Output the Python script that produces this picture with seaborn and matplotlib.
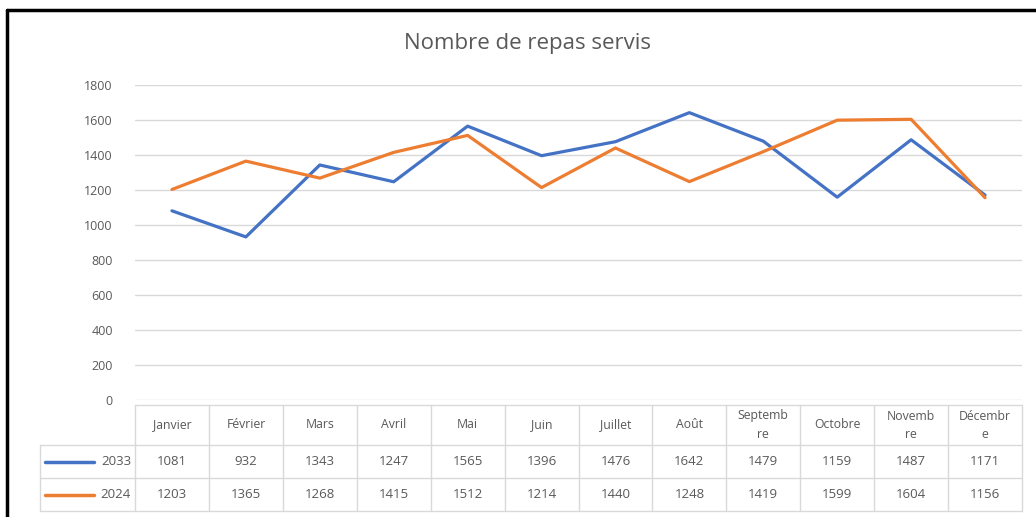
import matplotlib
matplotlib.use("Agg")

import matplotlib.pyplot as plt
import pandas as pd
import seaborn as sns

months = ["Janvier", "Février", "Mars", "Avril", "Mai", "Juin", "Juillet",
          "Août", "Septembre", "Octobre", "Novembre", "Décembre"]
tableLabels = ["Janvier", "Février", "Mars", "Avril", "Mai", "Juin", "Juillet",
               "Août", "Septemb\nre", "Octobre", "Novemb\nre", "Décembr\ne"]
series2033 = [1081, 932, 1343, 1247, 1565, 1396, 1476, 1642, 1479, 1159, 1487, 1171]
series2024 = [1203, 1365, 1268, 1415, 1512, 1214, 1440, 1248, 1419, 1599, 1604, 1156]
seriesNames = ["2033", "2024"]
yTicks = [0, 200, 400, 600, 800, 1000, 1200, 1400, 1600, 1800]
title = "Nombre de repas servis"

colors = {"2033": "#4472C4", "2024": "#ED7D31"}
textGray = "#595959"
gridGray = "#D9D9D9"

sns.set_theme(style="white")
plt.rcParams["font.family"] = ["Open Sans", "DejaVu Sans"]

W, H = 1036, 517
fig = plt.figure(figsize=(W / 100, H / 100), dpi=100)

# main line chart area, in pixels of the figure
left, right, top, bottom = 135, 1022, 85, 400
ax = fig.add_axes([left / W, 1 - bottom / H, (right - left) / W, (bottom - top) / H])

df = pd.DataFrame({
    "month": list(range(len(months))) * 2,
    "value": series2033 + series2024,
    "serie": [seriesNames[0]] * len(months) + [seriesNames[1]] * len(months),
})
sns.lineplot(data=df, x="month", y="value", hue="serie", palette=colors,
             linewidth=2.3, legend=False, ax=ax)

ax.set_xlim(-0.5, len(months) - 0.5)
ax.set_ylim(0, 1800)
ax.set_yticks(yTicks)
ax.set_yticklabels([str(v) for v in yTicks], color=textGray, fontsize=9)
ax.set_xticks([])
ax.set_xlabel("")
ax.set_ylabel("")
ax.tick_params(axis="y", length=0, pad=16)
ax.yaxis.grid(True, color=gridGray, linewidth=1)
ax.set_axisbelow(True)
for s in ax.spines.values():
    s.set_visible(False)

# overlay axes in pixel coordinates for title, data table and frame
ov = fig.add_axes([0, 0, 1, 1], zorder=-1)
ov.set_xlim(0, W)
ov.set_ylim(H, 0)
ov.axis("off")

ov.text(527, 44, title, ha="center", va="center",
        fontsize=16, color=textGray)

colW = (right - left) / len(months)
yHeadTop, yHeadBot, yRow1, yRow2 = 405, 445, 478, 511
tableLeft = 40
lineKw = {"color": gridGray, "linewidth": 1}

ov.plot([left, right], [yHeadTop, yHeadTop], **lineKw)
for yy in [yHeadBot, yRow1, yRow2]:
    ov.plot([tableLeft, right], [yy, yy], **lineKw)
ov.plot([tableLeft, tableLeft], [yHeadBot, yRow2], **lineKw)
for i in range(len(months) + 1):
    xx = left + i * colW
    ov.plot([xx, xx], [yHeadTop, yRow2], **lineKw)

for i, lab in enumerate(tableLabels):
    cx = left + (i + 0.5) * colW
    ov.text(cx, (yHeadTop + yHeadBot) / 2, lab, ha="center", va="center",
            fontsize=8.8, color=textGray, linespacing=1.5)

rows = [(seriesNames[0], series2033, yHeadBot, yRow1),
        (seriesNames[1], series2024, yRow1, yRow2)]
for name, vals, y0, y1 in rows:
    cy = (y0 + y1) / 2
    ov.plot([45, 94], [cy, cy], color=colors[name], linewidth=2.5)
    ov.text(131, cy, name, ha="right", va="center", fontsize=9.5, color=textGray)
    for i, v in enumerate(vals):
        ov.text(left + (i + 0.5) * colW, cy, str(v), ha="center", va="center",
                fontsize=9.5, color=textGray)

# black frame on the left and top edges of the screenshot
ov.plot([7, 7], [10, H], color="black", linewidth=2.5)
ov.plot([7, W], [10, 10], color="black", linewidth=2.5)

fig.savefig("out.png", dpi=100)
